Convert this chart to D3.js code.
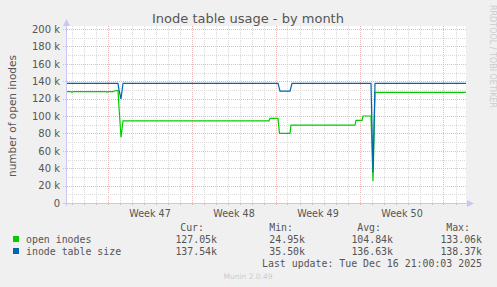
<!DOCTYPE html>
<html>
<head>
<meta charset="utf-8">
<script src="https://cdn.jsdelivr.net/npm/d3@7"></script>
<style>
  html, body { margin: 0; padding: 0; background: #f0f0f0; }
  svg { display: block; }
</style>
</head>
<body>
<svg id="chart"></svg>
<script>
const width = 497;
const height = 287;

// sample times (local) and values, in inodes
const times = [
  '2025-11-13T13:00', '2025-11-13T23:00', '2025-11-14T01:00', '2025-11-14T03:00',
  '2025-11-16T21:00', '2025-11-16T23:00', '2025-11-17T01:00', '2025-11-17T11:00',
  '2025-11-17T15:00', '2025-11-17T21:00', '2025-11-17T23:00', '2025-11-18T03:00',
  '2025-11-18T07:00', '2025-11-30T11:00', '2025-11-30T13:00', '2025-12-01T05:00',
  '2025-12-01T08:00', '2025-12-01T09:00', '2025-12-02T03:00', '2025-12-02T05:00',
  '2025-12-02T07:00', '2025-12-02T09:00', '2025-12-07T15:00', '2025-12-07T17:00',
  '2025-12-08T05:00', '2025-12-08T07:00', '2025-12-08T23:00', '2025-12-09T03:00',
  '2025-12-09T07:00', '2025-12-16T21:00'
];
const openInodes = [
  128000, 128000, 127000, 128000,
  128000, 127500, 128000, 128000,
  129000, 129300, 110000, 75500,
  94500, 94500, 97300, 97300,
  80000, 80000, 80000, 80000,
  89600, 89600, 89600, 95000,
  95000, 100000, 100000, 24950,
  127050, 127050
];
const inodeTableSize = [
  137600, 137600, 137600, 137600,
  137600, 137600, 137600, 137600,
  137600, 137600, 130000, 119500,
  137600, 137600, 137600, 137600,
  131000, 128500, 128500, 128500,
  133000, 137600, 137600, 137600,
  137600, 137600, 137600, 35500,
  137540, 137540
];

const yTicks = [0, 20000, 40000, 60000, 80000, 100000, 120000, 140000, 160000, 180000, 200000];

const series = [
  { name: 'open inodes', color: '#00cc00', values: openInodes, cur: '127.05k', min: '24.95k', avg: '104.84k', max: '133.06k' },
  { name: 'inode table size', color: '#0066b3', values: inodeTableSize, cur: '137.54k', min: '35.50k', avg: '136.63k', max: '138.37k' }
];

const dates = times.map(t => new Date(t));
const end = new Date('2025-12-16T21:00');
const start = new Date(end.getTime() - 800 * 3600 * 1000);

const margin = { left: 66, right: 31, top: 29, bottom: 84 };
const plotRight = width - margin.right;
const plotBottom = height - margin.bottom;

const svg = d3.select('#chart')
  .attr('width', width)
  .attr('height', height)
  .style('font-family', 'DejaVu Sans, sans-serif');

const x = d3.scaleTime()
  .domain([start, end])
  .range([margin.left, margin.left + 400]);

const y = d3.scaleLinear()
  .domain([0, 200000])
  .range([plotBottom, margin.top]);

// plot background
svg.append('rect')
  .attr('x', margin.left)
  .attr('y', margin.top - 3)
  .attr('width', plotRight - margin.left)
  .attr('height', plotBottom - margin.top + 3)
  .attr('fill', '#ffffff');

// grid
const grid = svg.append('g').attr('shape-rendering', 'crispEdges');
const days = d3.timeDay.range(d3.timeDay.ceil(start), end);
const mondays = d3.timeMonday.range(d3.timeMonday.ceil(start), end);
const minorColor = '#dadada';
const majorColor = '#ebb8b8';

grid.selectAll('.vminor')
  .data(days)
  .enter()
  .append('line')
  .attr('x1', d => Math.round(x(d)) + 0.5)
  .attr('x2', d => Math.round(x(d)) + 0.5)
  .attr('y1', margin.top - 3)
  .attr('y2', plotBottom)
  .attr('stroke', minorColor)
  .attr('stroke-dasharray', '1,1');

grid.selectAll('.vmajor')
  .data(mondays)
  .enter()
  .append('line')
  .attr('x1', d => Math.round(x(d)) + 0.5)
  .attr('x2', d => Math.round(x(d)) + 0.5)
  .attr('y1', margin.top - 3)
  .attr('y2', plotBottom + 3)
  .attr('stroke', majorColor)
  .attr('stroke-dasharray', '1,1');

grid.selectAll('.hminor')
  .data(d3.range(10000, 200000, 20000))
  .enter()
  .append('line')
  .attr('x1', margin.left)
  .attr('x2', plotRight)
  .attr('y1', d => Math.round(y(d)) + 0.5)
  .attr('y2', d => Math.round(y(d)) + 0.5)
  .attr('stroke', minorColor)
  .attr('stroke-dasharray', '1,1');

grid.selectAll('.hmajor')
  .data(yTicks.slice(1))
  .enter()
  .append('line')
  .attr('x1', margin.left - 3)
  .attr('x2', plotRight)
  .attr('y1', d => Math.round(y(d)) + 0.5)
  .attr('y2', d => Math.round(y(d)) + 0.5)
  .attr('stroke', majorColor)
  .attr('stroke-dasharray', '1,1');

// small day ticks under the axis
grid.selectAll('.dtick')
  .data(days)
  .enter()
  .append('line')
  .attr('x1', d => Math.round(x(d)) + 0.5)
  .attr('x2', d => Math.round(x(d)) + 0.5)
  .attr('y1', plotBottom)
  .attr('y2', plotBottom + 2)
  .attr('stroke', '#bbbbbb');

// series lines
const line = d3.line()
  .x((d, i) => x(dates[i]))
  .y(d => y(d));

series.forEach(s => {
  svg.append('path')
    .datum(s.values)
    .attr('fill', 'none')
    .attr('stroke', s.color)
    .attr('stroke-width', 1.2)
    .attr('d', line);
});

// axes lines with arrows
const axisColor = '#c8c8f0';
svg.append('line')
  .attr('x1', margin.left + 0.5).attr('x2', margin.left + 0.5)
  .attr('y1', plotBottom + 3).attr('y2', margin.top - 5)
  .attr('stroke', axisColor);
svg.append('path')
  .attr('d', `M${margin.left - 3},${margin.top - 3} L${margin.left + 0.5},${margin.top - 10} L${margin.left + 4},${margin.top - 3} Z`)
  .attr('fill', axisColor);
svg.append('line')
  .attr('x1', margin.left - 3).attr('x2', plotRight + 2)
  .attr('y1', plotBottom + 0.5).attr('y2', plotBottom + 0.5)
  .attr('stroke', axisColor);
svg.append('path')
  .attr('d', `M${plotRight + 1},${plotBottom - 3} L${plotRight + 8},${plotBottom + 0.5} L${plotRight + 1},${plotBottom + 4} Z`)
  .attr('fill', axisColor);

// y tick labels
const yAxis = d3.axisLeft(y)
  .tickValues(yTicks)
  .tickSize(0)
  .tickPadding(6)
  .tickFormat(d => d === 0 ? '0' : `${d / 1000} k`);

svg.append('g')
  .attr('transform', `translate(${margin.left},0)`)
  .call(yAxis)
  .call(g => g.select('.domain').remove())
  .selectAll('text')
  .attr('fill', '#555555')
  .style('font-size', '10px')
  .style('font-family', 'DejaVu Sans, sans-serif');

// x labels at the middle of each week
const weekMids = mondays.concat([d3.timeMonday.floor(start)])
  .map(m => new Date(m.getTime() + 3.5 * 86400000))
  .filter(d => d > start && d < end);

const xAxis = d3.axisBottom(x)
  .tickValues(weekMids)
  .tickSize(0)
  .tickPadding(7)
  .tickFormat(d3.timeFormat('Week %V'));

svg.append('g')
  .attr('transform', `translate(0,${plotBottom})`)
  .call(xAxis)
  .call(g => g.select('.domain').remove())
  .selectAll('text')
  .attr('fill', '#555555')
  .style('font-size', '9.6px')
  .style('font-family', 'DejaVu Sans, sans-serif');

// title and labels
svg.append('text')
  .attr('x', 248)
  .attr('y', 23)
  .attr('text-anchor', 'middle')
  .attr('fill', '#555555')
  .style('font-size', '13px')
  .text('Inode table usage - by month');

svg.append('text')
  .attr('transform', `translate(16,${(margin.top + plotBottom) / 2}) rotate(-90)`)
  .attr('text-anchor', 'middle')
  .attr('fill', '#555555')
  .style('font-size', '10.5px')
  .text('number of open inodes');

svg.append('text')
  .attr('transform', 'translate(490,5) rotate(90)')
  .attr('text-anchor', 'start')
  .attr('fill', '#cccccc')
  .style('font-size', '8px')
  .text('RRDTOOL / TOBI OETIKER');

// legend
const legend = svg.append('g')
  .style('font-family', 'DejaVu Sans Mono, monospace')
  .style('font-size', '9.9px')
  .attr('fill', '#555555');

const colX = [204, 293, 381, 470];
['Cur:', 'Min:', 'Avg:', 'Max:'].forEach((h, i) => {
  legend.append('text')
    .attr('x', colX[i])
    .attr('y', 231)
    .attr('text-anchor', 'end')
    .text(h);
});

const valX = [217, 305, 393, 482];
series.forEach((s, i) => {
  const yy = 243 + i * 12;
  legend.append('rect')
    .attr('x', 13)
    .attr('y', yy - 7)
    .attr('width', 6)
    .attr('height', 6)
    .attr('fill', s.color);
  legend.append('text')
    .attr('x', 26)
    .attr('y', yy)
    .text(s.name);
  [s.cur, s.min, s.avg, s.max].forEach((v, j) => {
    legend.append('text')
      .attr('x', valX[j])
      .attr('y', yy)
      .attr('text-anchor', 'end')
      .text(v);
  });
});

legend.append('text')
  .attr('x', 482)
  .attr('y', 267)
  .attr('text-anchor', 'end')
  .text('Last update: Tue Dec 16 21:00:03 2025');

svg.append('text')
  .attr('x', 248)
  .attr('y', 279)
  .attr('text-anchor', 'middle')
  .attr('fill', '#cccccc')
  .style('font-size', '7.5px')
  .text('Munin 2.0.49');
</script>
</body>
</html>
